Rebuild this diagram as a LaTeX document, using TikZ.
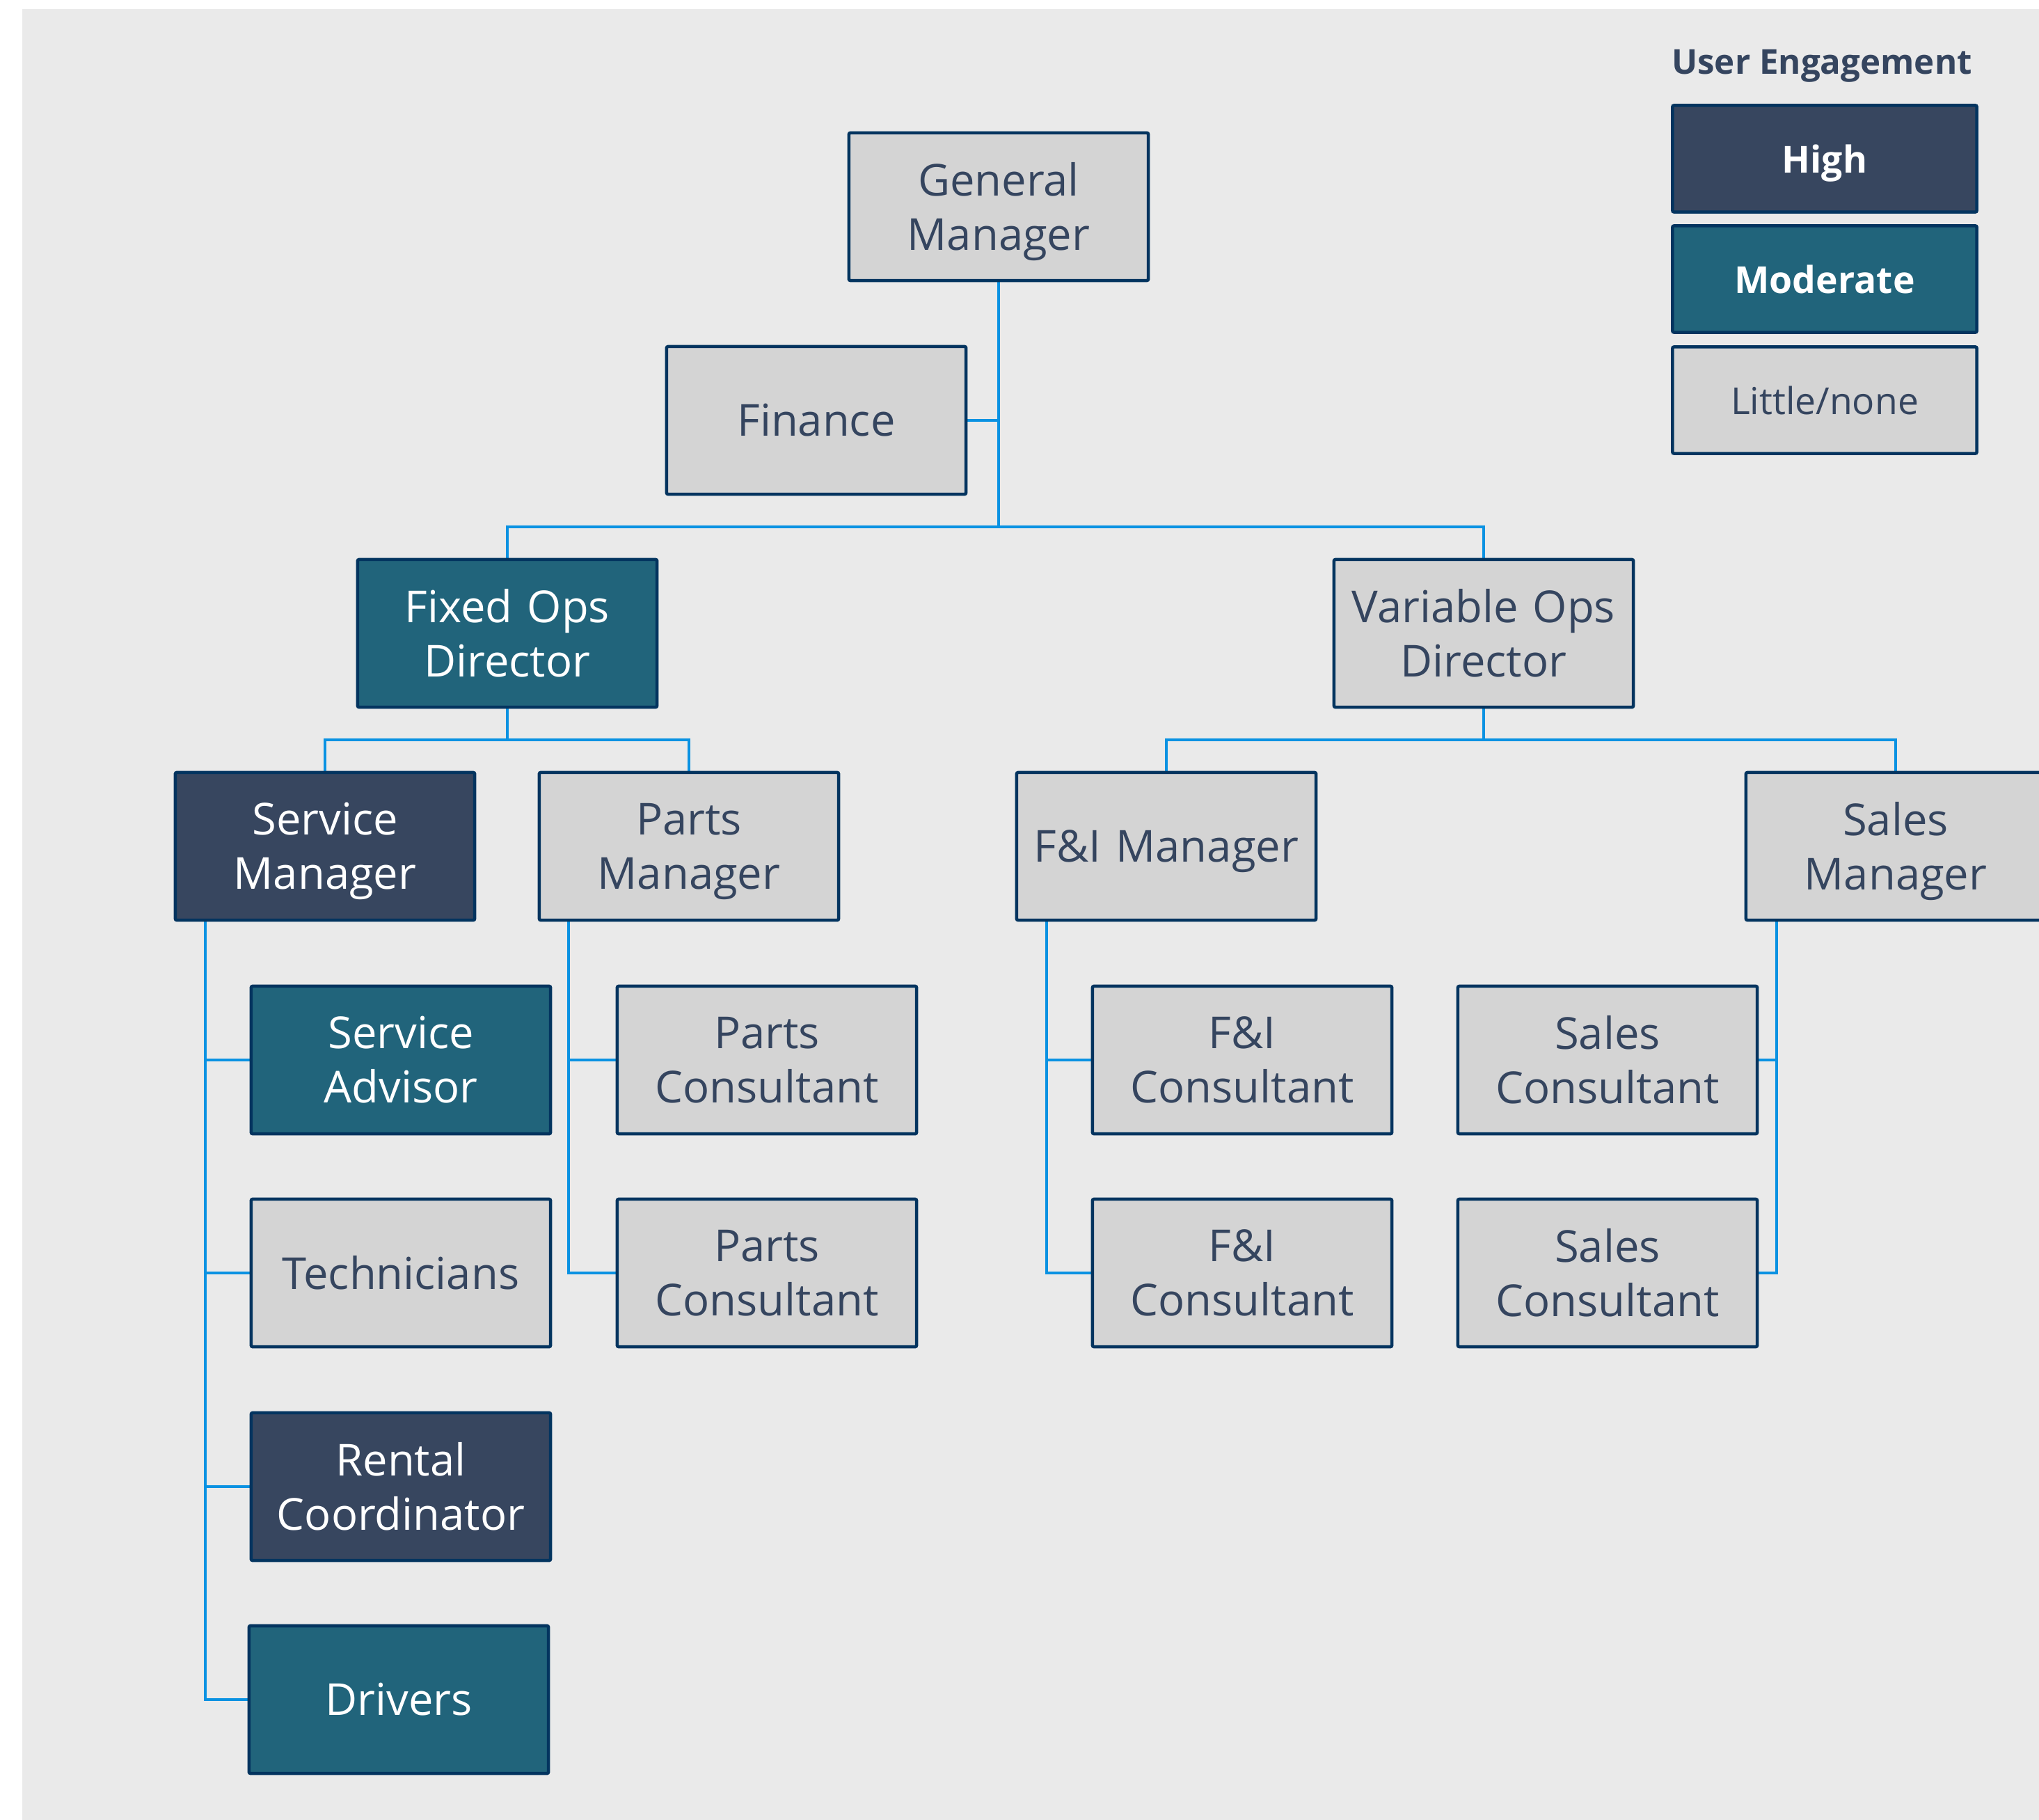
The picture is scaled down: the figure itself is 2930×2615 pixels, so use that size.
\documentclass[tikz,border=0pt]{standalone}
\usepackage{fontspec}
\setmainfont{Open Sans}
\usetikzlibrary{backgrounds}
\definecolor{bgc}{HTML}{EAEAEA}
\definecolor{bordc}{HTML}{03345F}
\definecolor{connc}{HTML}{0A92E2}
\definecolor{highc}{HTML}{37465F}
\definecolor{modc}{HTML}{21647B}
\definecolor{lowc}{HTML}{D4D4D4}
\definecolor{txtc}{HTML}{35455F}
\newcommand{\sg}{\smash{g}}
\tikzset{
  box/.style={draw=bordc, line width=1.3pt, rounded corners=0.6pt, minimum width=4.30cm, minimum height=2.12cm, text width=4.1cm, align=center, inner sep=0pt, font=\fontsize{18}{22.2}\selectfont},
  low/.style={box, fill=lowc, text=txtc},
  moder/.style={box, fill=modc, text=white},
  highe/.style={box, fill=highc, text=white},
  legbox/.style={draw=bordc, line width=1.3pt, rounded corners=0.6pt, minimum width=4.37cm, minimum height=1.53cm, inner sep=0pt, font=\fontsize{15.2}{18}\selectfont},
  conn/.style={draw=connc, line width=1.35pt}
}
\begin{document}
\begin{tikzpicture}[x=0.01cm,y=-0.01cm]
\useasboundingbox (0,0) rectangle (2930,2615);
\clip (0,0) rectangle (2930,2615);
\begin{scope}[on background layer]
\fill[bgc] (32,13) rectangle (2940,2625);
\end{scope}
% nodes
\node[low] (gm) at (1435,297) {General\\Mana\sg er};
\node[low] (fin) at (1173,604) {Finance};
\node[moder] (fod) at (729,910) {Fixed Ops\\Director};
\node[low] (vod) at (2132,910) {Variable Ops\\Director};
\node[highe] (sm) at (467,1216) {Service\\Mana\sg er};
\node[low] (pm) at (990,1216) {Parts\\Mana\sg er};
\node[low] (fim) at (1676,1216) {F\&I Mana\sg er};
\node[low] (sam) at (2724,1216) {Sales\\Mana\sg er};
\node[moder] (sa) at (576,1523) {Service\\Advisor};
\node[low] (tech) at (576,1829) {Technicians};
\node[highe] (rc) at (576,2136) {Rental\\Coordinator};
\node[moder] (drv) at (573,2442) {Drivers};
\node[low] (pc1) at (1102,1523) {Parts\\Consultant};
\node[low] (pc2) at (1102,1829) {Parts\\Consultant};
\node[low] (fc1) at (1785,1523) {F\&I\\Consultant};
\node[low] (fc2) at (1785,1829) {F\&I\\Consultant};
\node[low] (sc1) at (2310,1523) {Sales\\Consultant};
\node[low] (sc2) at (2310,1829) {Sales\\Consultant};
% legend
\node[font=\fontsize{14}{17}\selectfont\bfseries, text=txtc, inner sep=0pt] (legt) at (2618,95) {User Engagement};
\node[legbox, fill=highc, text=white, font=\fontsize{15.2}{18}\selectfont\bfseries] (lh) at (2622,228) {Hi\sg h};
\node[legbox, fill=modc, text=white, font=\fontsize{15.2}{18}\selectfont\bfseries] (lm) at (2622,401) {Moderate};
\node[legbox, fill=lowc, text=txtc] (ll) at (2622,575) {Little/none};
% connectors
\coordinate (b1) at (1435,757);
\coordinate (b2) at (729,1063);
\coordinate (b3) at (2132,1063);
\coordinate (s1) at (295,1216);
\coordinate (s2) at (817,1216);
\coordinate (s3) at (1504,1216);
\coordinate (s4) at (2553,1216);
\begin{scope}[on background layer]
\draw[conn] (gm.south) -- (b1);
\draw[conn] (fin.east) -- (fin.east -| b1);
\draw[conn] (fod.north) |- (b1) -| (vod.north);
\draw[conn] (fod.south) -- (b2);
\draw[conn] (sm.north) |- (b2) -| (pm.north);
\draw[conn] (vod.south) -- (b3);
\draw[conn] (fim.north) |- (b3) -| (sam.north);
\draw[conn] (s1 |- sm.south) |- (drv.west);
\draw[conn] (sa.west) -- (sa.west -| s1);
\draw[conn] (tech.west) -- (tech.west -| s1);
\draw[conn] (rc.west) -- (rc.west -| s1);
\draw[conn] (s2 |- pm.south) |- (pc2.west);
\draw[conn] (pc1.west) -- (pc1.west -| s2);
\draw[conn] (s3 |- fim.south) |- (fc2.west);
\draw[conn] (fc1.west) -- (fc1.west -| s3);
\draw[conn] (s4 |- sam.south) |- (sc2.east);
\draw[conn] (sc1.east) -- (sc1.east -| s4);
\end{scope}
\end{tikzpicture}
\end{document}
